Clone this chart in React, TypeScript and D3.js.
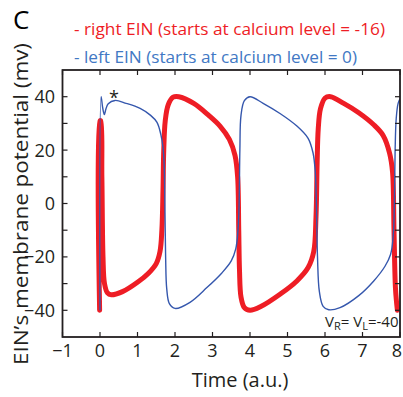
import React from "react";
import * as d3 from "d3";

// ---- data ----
const redTime = [-0.01, 0.0, 0.02, 0.05, 0.08, 0.12, 0.2, 0.3, 0.6, 1.0, 1.3, 1.5, 1.6, 1.65, 1.68, 1.7, 1.74, 1.82, 1.95, 2.1, 2.5, 2.9, 3.2, 3.45, 3.6, 3.67, 3.7, 3.72, 3.76, 3.85, 4.0, 4.3, 4.8, 5.25, 5.55, 5.7, 5.76, 5.79, 5.82, 5.88, 6.0, 6.15, 6.5, 6.9, 7.3, 7.55, 7.72, 7.8, 7.84, 7.88, 7.93];
const redVoltage = [-40, 31, 31, 10, -20, -30, -33.5, -34.2, -33, -29.5, -26, -22.5, -18, -10, 5, 20, 31, 37, 39.8, 40, 37.5, 33, 29, 24, 18, 10, -10, -25, -35, -39, -40, -38.5, -34, -29, -24, -18, -5, 15, 28, 35.5, 39.5, 40, 37.5, 34, 29.5, 25.5, 19, 12, -10, -32, -40];

const blueTime = [0.0, 0.03, 0.07, 0.115, 0.16, 0.22, 0.4, 0.7, 1.07, 1.35, 1.52, 1.62, 1.68, 1.71, 1.73, 1.75, 1.78, 1.85, 2.0, 2.4, 2.85, 3.25, 3.5, 3.62, 3.68, 3.71, 3.73, 3.76, 3.85, 4.0, 4.35, 4.8, 5.25, 5.55, 5.68, 5.74, 5.77, 5.8, 5.85, 5.95, 6.1, 6.4, 6.9, 7.3, 7.6, 7.75, 7.82, 7.85, 7.87, 7.9, 7.95, 8.0];
const blueVoltage = [-40, 40, 36, 33.3, 35.5, 37.4, 38.6, 37.5, 35.6, 33, 30.4, 26, 21, 15, 0, -20, -32, -37.5, -39.3, -37, -31.5, -26, -21.5, -17, -10, 0, 20, 33, 38.5, 40, 37.5, 33.7, 29, 24.4, 19, 12, 0, -20, -33, -38.5, -39.8, -39, -34.5, -29, -23.5, -19, -12, 0, 20, 32, 37.5, 39.2];

const xTicks = [-1, 0, 1, 2, 3, 4, 5, 6, 7, 8];
const yLabelTicks = [-40, -20, 0, 20, 40];
const yMinorTicks = [-40, -30, -20, -10, 0, 10, 20, 30, 40];

const legendRed = "- right EIN (starts at calcium level = -16)";
const legendBlue = "- left EIN (starts at calcium level = 0)";

const RED = "#ee1d25";
const BLUE = "#3557ad";
const BLUE_TEXT = "#4178c4";
const INK = "#231f20";
const FONT = "'Open Sans', 'Noto Sans', sans-serif";

export default function App() {
  const left = 62.5, right = 400, top = 70, bottom = 337;
  const x = d3.scaleLinear().domain([-1, 8]).range([left, right]);
  const y = d3.scaleLinear().domain([-50, 50]).range([bottom, top]);

  const line = d3
    .line<[number, number]>()
    .x((d) => x(d[0]))
    .y((d) => y(d[1]))
    .curve(d3.curveCatmullRom.alpha(0.5));

  const redPts = redTime.map((t, i) => [t, redVoltage[i]] as [number, number]);
  const bluePts = blueTime.map((t, i) => [t, blueVoltage[i]] as [number, number]);

  const tickLen = 5;

  return (
    <svg
      width={403}
      height={397}
      style={{ position: "absolute", left: 0, top: 0, background: "#fff" }}
      fontFamily={FONT}
    >
      <defs>
        <clipPath id="plotClip">
          <rect x={left} y={top} width={right - left} height={bottom - top} />
        </clipPath>
      </defs>

      {/* panel letter */}
      <text x={13} y={29} fontSize={26} fill="#000">C</text>

      {/* legend */}
      <text x={74} y={35} fontSize={17} fill={RED} textLength={311} lengthAdjust="spacingAndGlyphs">{legendRed}</text>
      <text x={74} y={63} fontSize={17} fill={BLUE_TEXT} textLength={283} lengthAdjust="spacingAndGlyphs">{legendBlue}</text>

      {/* curves */}
      <g clipPath="url(#plotClip)">
        <path d={line(redPts) ?? ""} fill="none" stroke={RED} strokeWidth={5} strokeLinejoin="round" strokeLinecap="round" />
        <path d={line(bluePts) ?? ""} fill="none" stroke={BLUE} strokeWidth={1.4} strokeLinejoin="round" />
      </g>

      {/* frame */}
      <rect x={left} y={top} width={right - left} height={bottom - top} fill="none" stroke={INK} strokeWidth={1.8} />

      {/* x ticks (top and bottom, inward) */}
      {xTicks.map((t) => (
        <g key={"xt" + t}>
          <line x1={x(t)} x2={x(t)} y1={bottom} y2={bottom - tickLen} stroke={INK} strokeWidth={1.2} />
          <line x1={x(t)} x2={x(t)} y1={top} y2={top + tickLen} stroke={INK} strokeWidth={1.2} />
          <text x={Math.min(x(t), 397)} y={357} fontSize={18} fill={INK} textAnchor="middle">
            {t < 0 ? "\u2212" + Math.abs(t) : String(t)}
          </text>
        </g>
      ))}

      {/* y ticks (left and right, inward) */}
      {yMinorTicks.map((v) => (
        <g key={"yt" + v}>
          <line x1={left} x2={left + tickLen} y1={y(v)} y2={y(v)} stroke={INK} strokeWidth={1.2} />
          <line x1={right} x2={right - tickLen} y1={y(v)} y2={y(v)} stroke={INK} strokeWidth={1.2} />
        </g>
      ))}
      {yLabelTicks.map((v) => (
        <text key={"yl" + v} x={55} y={y(v) + 6.5} fontSize={18} fill={INK} textAnchor="end">
          {v < 0 ? "\u2212" + Math.abs(v) : String(v)}
        </text>
      ))}

      {/* asterisk */}
      <text x={114} y={104} fontSize={18} fill={INK} textAnchor="middle">*</text>

      {/* V_R = V_L = -40 */}
      <text x={325} y={327} fontSize={15} fill={INK}>
        V<tspan fontSize={11} dy={3}>R</tspan>
        <tspan dy={-3}>= V</tspan>
        <tspan fontSize={11} dy={3}>L</tspan>
        <tspan dy={-3}>=-40</tspan>
      </text>

      {/* axis titles */}
      <text x={240} y={387} fontSize={20} fill={INK} textAnchor="middle">Time (a.u.)</text>
      <text
        transform="translate(28,204) rotate(-90)"
        fontSize={20}
        fill={INK}
        textAnchor="middle"
        textLength={322}
        lengthAdjust="spacingAndGlyphs"
      >
        EIN’s membrane potential (mv)
      </text>
    </svg>
  );
}
